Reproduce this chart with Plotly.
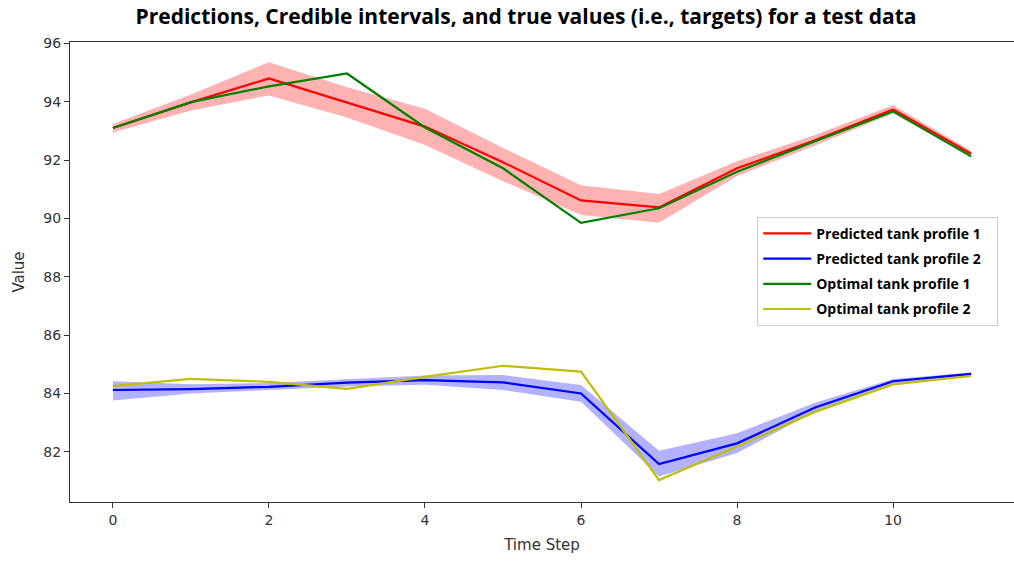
import plotly.graph_objects as go

time_steps = [0, 1, 2, 3, 4, 5, 6, 7, 8, 9, 10, 11]

pred_1 = [93.1, 93.98, 94.8, 93.98, 93.15, 91.93, 90.62, 90.38, 91.72, 92.68, 93.74, 92.22]
pred_1_lower = [92.95, 93.7, 94.22, 93.46, 92.52, 91.28, 90.12, 89.85, 91.46, 92.5, 93.6, 92.12]
pred_1_upper = [93.24, 94.25, 95.36, 94.5, 93.76, 92.42, 91.14, 90.84, 91.96, 92.86, 93.88, 92.32]

pred_2 = [84.12, 84.15, 84.23, 84.37, 84.46, 84.38, 84.0, 81.58, 82.29, 83.52, 84.42, 84.67]
pred_2_lower = [83.76, 84.0, 84.12, 84.24, 84.3, 84.12, 83.72, 81.15, 81.96, 83.38, 84.34, 84.62]
pred_2_upper = [84.42, 84.32, 84.36, 84.5, 84.62, 84.63, 84.29, 82.04, 82.64, 83.68, 84.5, 84.72]

optimal_1 = [93.1, 93.99, 94.53, 94.97, 93.12, 91.72, 89.85, 90.35, 91.6, 92.65, 93.67, 92.13]
optimal_2 = [84.25, 84.5, 84.4, 84.16, 84.57, 84.95, 84.75, 81.03, 82.18, 83.37, 84.31, 84.6]

series_names = ["Predicted tank profile 1", "Predicted tank profile 2",
                "Optimal tank profile 1", "Optimal tank profile 2"]

x_ticks = [0, 2, 4, 6, 8, 10]
y_ticks = [82, 84, 86, 88, 90, 92, 94, 96]

fig = go.Figure()

# credible interval bands
for lo, hi, col in [(pred_1_lower, pred_1_upper, "rgba(255,0,0,0.3)"),
                    (pred_2_lower, pred_2_upper, "rgba(0,0,255,0.3)")]:
    fig.add_trace(go.Scatter(x=time_steps, y=lo, mode="lines", line=dict(width=0, color=col),
                             showlegend=False, hoverinfo="skip"))
    fig.add_trace(go.Scatter(x=time_steps, y=hi, mode="lines", line=dict(width=0, color=col),
                             fill="tonexty", fillcolor=col, showlegend=False, hoverinfo="skip"))

lines = [(pred_1, "#ff0000", series_names[0]),
         (pred_2, "#0000ff", series_names[1]),
         (optimal_1, "#008000", series_names[2]),
         (optimal_2, "#bfbf00", series_names[3])]
for i, (vals, col, name) in enumerate(lines):
    fig.add_trace(go.Scatter(x=time_steps, y=vals, mode="lines",
                             name="<b>" + name + "</b>&nbsp;&nbsp;&nbsp;",
                             line=dict(color=col, width=2.2), legendgroup=f"g{i}"))

axis_common = dict(showline=True, linecolor="#333", linewidth=1.3, mirror=True,
                   ticks="outside", ticklen=5, tickcolor="#333", showgrid=False,
                   zeroline=False, automargin=False,
                   tickfont=dict(family="DejaVu Sans", size=14, color="#333"))

fig.update_xaxes(range=[-0.55, 11.55], tickvals=x_ticks,
                 title=dict(text="Time Step", font=dict(family="DejaVu Sans", size=15, color="#333"),
                            standoff=12),
                 **axis_common)
fig.update_yaxes(range=[80.28, 96.05], tickvals=y_ticks,
                 title=dict(text="Value", font=dict(family="DejaVu Sans", size=15, color="#333"),
                            standoff=14),
                 **axis_common)

fig.update_layout(
    width=1014, height=561, autosize=False,
    margin=dict(l=70, r=0, t=42, b=59, pad=0),
    plot_bgcolor="white", paper_bgcolor="white",
    title=dict(text="<b>Predictions, Credible intervals, and true values (i.e., targets) for a test data</b>",
               x=526 / 1014, xanchor="center", y=1 - 17 / 561, yanchor="middle", yref="container",
               font=dict(family="Open Sans", size=21, color="black")),
    legend=dict(x=0.728, y=0.62, xanchor="left", yanchor="top",
                bgcolor="white", bordercolor="#ccc", borderwidth=1,
                font=dict(family="Open Sans", size=14, color="black"),
                tracegroupgap=4, itemwidth=48),
    showlegend=True,
)

fig.write_html("out.html", config={"responsive": False, "displayModeBar": False},
               post_script="document.body.style.margin='0';document.body.style.overflow='hidden';")
